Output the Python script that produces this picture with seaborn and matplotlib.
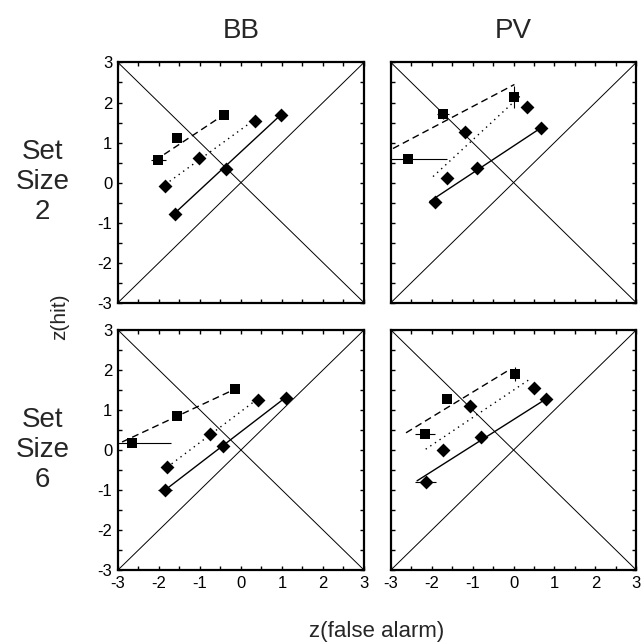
import numpy as np
import pandas as pd
import matplotlib
matplotlib.use('Agg')
import matplotlib.pyplot as plt
import seaborn as sns

# ── data (z-scores)
panels = ['BB2', 'PV2', 'BB6', 'PV6']
conditions = ['dashed', 'dotted', 'solid']

pt_x = {
    'BB2': [[-2.02, -1.57, -0.41], [-1.85, -1.02, 0.33], [-1.61, -0.37, 0.98]],
    'PV2': [[-2.57, -1.72, 0.02], [-1.64, -1.20, 0.33], [-1.92, -0.90, 0.66]],
    'BB6': [[-2.67, -1.57, -0.15], [-1.80, -0.76, 0.41], [-1.85, -0.44, 1.11]],
    'PV6': [[-2.17, -1.63, 0.04], [-1.73, -1.07, 0.49], [-2.15, -0.80, 0.80]],
}
pt_y = {
    'BB2': [[0.56, 1.12, 1.68], [-0.08, 0.62, 1.55], [-0.78, 0.34, 1.68]],
    'PV2': [[0.60, 1.72, 2.13], [0.12, 1.26, 1.88], [-0.49, 0.36, 1.36]],
    'BB6': [[0.18, 0.84, 1.53], [-0.43, 0.39, 1.26], [-1.01, 0.11, 1.31]],
    'PV6': [[0.41, 1.27, 1.90], [-0.01, 1.11, 1.56], [-0.79, 0.33, 1.28]],
}
err_x = {
    'BB2': [[0.18, 0.08, 0.06], [0.08, 0.06, 0.06], [0.06, 0.05, 0.06]],
    'PV2': [[0.95, 0.15, 0.06], [0.12, 0.06, 0.05], [0.14, 0.05, 0.05]],
    'BB6': [[0.97, 0.10, 0.05], [0.08, 0.06, 0.06], [0.17, 0.05, 0.05]],
    'PV6': [[0.24, 0.08, 0.06], [0.14, 0.06, 0.06], [0.25, 0.05, 0.05]],
}
err_y = {
    'BB2': [[0.05, 0.06, 0.08], [0.05, 0.05, 0.06], [0.05, 0.05, 0.10]],
    'PV2': [[0.05, 0.12, 0.27], [0.06, 0.05, 0.12], [0.05, 0.05, 0.10]],
    'BB6': [[0.05, 0.06, 0.08], [0.05, 0.06, 0.05], [0.05, 0.05, 0.06]],
    'PV6': [[0.05, 0.10, 0.17], [0.05, 0.05, 0.06], [0.05, 0.05, 0.08]],
}
# fitted line end points (x0, x1), (y0, y1)
line_x = {
    'BB2': [[-2.10, -0.41], [-1.85, 0.33], [-1.61, 0.98]],
    'PV2': [[-2.95, 0.02], [-1.97, 0.19], [-2.05, 0.66]],
    'BB6': [[-2.90, -0.15], [-1.80, 0.41], [-1.85, 1.11]],
    'PV6': [[-2.63, -0.08], [-2.15, 0.41], [-2.36, 0.80]],
}
line_y = {
    'BB2': [[0.55, 1.70], [-0.05, 1.57], [-0.76, 1.70]],
    'PV2': [[0.85, 2.45], [0.15, 2.19], [-0.47, 1.36]],
    'BB6': [[0.20, 1.52], [-0.43, 1.28], [-1.00, 1.33]],
    'PV6': [[0.43, 2.02], [0.02, 1.78], [-0.77, 1.28]],
}

diag = [-3, 3]
ticks = [-3, -2, -1, 0, 1, 2, 3]

sns.set_theme(style='ticks')
plt.rcParams['font.family'] = ['Liberation Sans', 'DejaVu Sans']
plt.rcParams['axes.unicode_minus'] = False

fig = plt.figure(figsize=(6.44, 6.44), dpi=100)
positions = {
    'BB2': [0.1832, 0.530, 0.382, 0.373],
    'PV2': [0.607, 0.530, 0.381, 0.373],
    'BB6': [0.1832, 0.1149, 0.382, 0.3727],
    'PV6': [0.607, 0.1149, 0.381, 0.3727],
}
dash_map = {'dashed': (5, 3), 'dotted': (1, 3), 'solid': ''}
marker_map = {'dashed': 's', 'dotted': 'D', 'solid': 'D'}

for p in panels:
    ax = fig.add_axes(positions[p])
    ax.plot(diag, diag, color='black', lw=0.7)
    ax.plot(diag, diag[::-1], color='black', lw=0.7)

    rows = []
    for i, c in enumerate(conditions):
        for xv, yv in zip(line_x[p][i], line_y[p][i]):
            rows.append({'cond': c, 'x': xv, 'y': yv})
    lines = pd.DataFrame(rows)
    sns.lineplot(data=lines, x='x', y='y', style='cond', dashes=dash_map,
                 color='black', lw=1.0, sort=False, estimator=None,
                 legend=False, ax=ax)

    for i, c in enumerate(conditions):
        ax.errorbar(pt_x[p][i], pt_y[p][i], xerr=err_x[p][i], yerr=err_y[p][i],
                    fmt='none', ecolor='black', elinewidth=0.8, capsize=0)
        pts = pd.DataFrame({'x': pt_x[p][i], 'y': pt_y[p][i]})
        sns.scatterplot(data=pts, x='x', y='y', marker=marker_map[c],
                        s=46 if c == 'dashed' else 50, color='black',
                        edgecolor='black', linewidth=0, ax=ax, zorder=5)

    ax.set_xlim(-3, 3)
    ax.set_ylim(-3, 3)
    ax.set_xticks(ticks)
    ax.set_yticks(ticks)
    ax.set_xticks(np.arange(-2.5, 3, 1.0), minor=True)
    ax.set_yticks(np.arange(-2.5, 3, 1.0), minor=True)
    ax.tick_params(which='both', direction='in', length=3, width=1,
                   top=True, right=True, labelsize=12, pad=4, colors='black')
    ax.set_xlabel('')
    ax.set_ylabel('')
    if p.startswith('PV'):
        ax.set_yticklabels([])
    if p.endswith('2'):
        ax.set_xticklabels([])
    for s in ax.spines.values():
        s.set_linewidth(1.6)
        s.set_color('black')

fig.text(0.374, 0.952, 'BB', ha='center', va='center', fontsize=20)
fig.text(0.797, 0.952, 'PV', ha='center', va='center', fontsize=20)
fig.text(0.066, 0.717, 'Set\nSize\n2', ha='center', va='center',
         fontsize=20, linespacing=1.2)
fig.text(0.066, 0.302, 'Set\nSize\n6', ha='center', va='center',
         fontsize=20, linespacing=1.2)
fig.text(0.093, 0.508, 'z(hit)', ha='center', va='center', rotation=90,
         fontsize=15)
fig.text(0.585, 0.019, 'z(false alarm)', ha='center', va='center', fontsize=16)

fig.savefig('out.png', dpi=100, facecolor='white')
